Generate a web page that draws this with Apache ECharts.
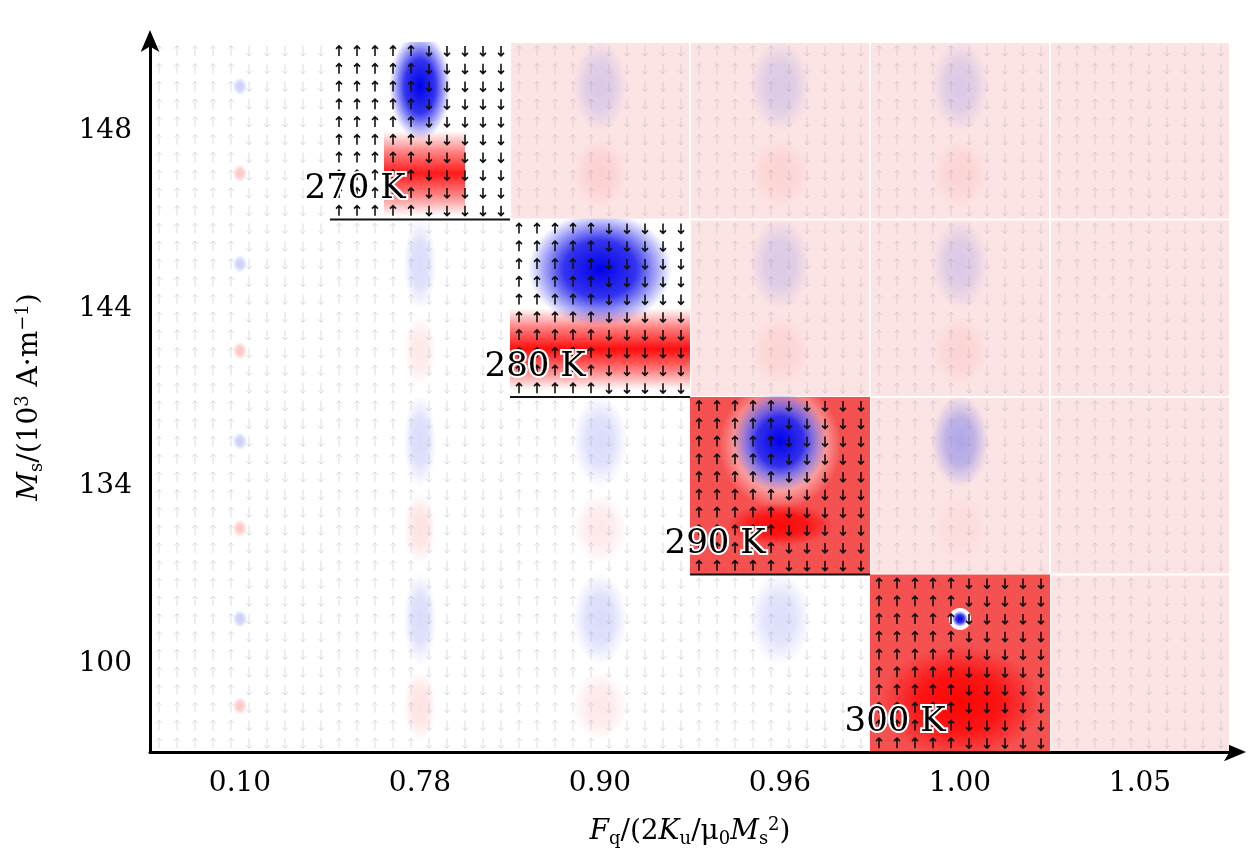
<!DOCTYPE html>
<html>
<head>
<meta charset="utf-8">
<script src="https://cdn.jsdelivr.net/npm/echarts@6/dist/echarts.min.js"></script>
<style>html,body{margin:0;background:#fff}#chart{width:1260px;height:866px}</style>
</head>
<body>
<div id="chart"></div>
<script>
var fields = ['0.10', '0.78', '0.90', '0.96', '1.00', '1.05'];
var moments = ['100', '134', '144', '148'];
var temps = ['300 K', '290 K', '280 K', '270 K'];
// per row (bottom to top), per column: strength of blue (upper) and red (lower) domains
var blueLevel = [
    [0.3, 0.22, 0.22, 0.2, 1.0, 0],
    [0.3, 0.22, 0.22, 1.0, 0.45, 0],
    [0.3, 0.22, 1.0, 0.2, 0.2, 0],
    [0.3, 1.0, 0.2, 0.2, 0.2, 0]
];
var redLevel = [
    [0.3, 0.15, 0.12, 0, 1.0, 0],
    [0.3, 0.15, 0.12, 0.95, 0.05, 0],
    [0.3, 0.12, 0.95, 0.1, 0.1, 0],
    [0.3, 0.9, 0.12, 0.1, 0.1, 0]
];
// background: 0 white, 1 light pink, 2 red
var bgKind = [
    [0, 0, 0, 0, 2, 1],
    [0, 0, 0, 2, 1, 1],
    [0, 0, 0, 1, 1, 1],
    [0, 0, 1, 1, 1, 1]
];
var blobWidth = [0.04, 0.09, 0.15, 0.17, 0.16, 0];
var hot = [4, 3, 2, 1]; // highlighted column per row

var data = [];
for (var r = 0; r < moments.length; r++) {
    for (var c = 0; c < fields.length; c++) {
        data.push([c, r, blueLevel[r][c], redLevel[r][c], bgKind[r][c]]);
    }
}

function blob(cx, cy, rx, ry, rgb, a) {
    return {
        type: 'circle', silent: true,
        x: cx, y: cy, scaleX: rx / ry, scaleY: 1,
        shape: { cx: 0, cy: 0, r: ry },
        style: { fill: { type: 'radial', x: 0.5, y: 0.5, r: 0.5, colorStops: [
            { offset: 0, color: 'rgba(' + rgb + ',' + a + ')' },
            { offset: 0.5, color: 'rgba(' + rgb + ',' + (a * 0.8) + ')' },
            { offset: 1, color: 'rgba(' + rgb + ',0)' }] } }
    };
}

function band(x, y, w, h, rgb, a) {
    return {
        type: 'rect', silent: true,
        shape: { x: x, y: y, width: w, height: h },
        style: { fill: { type: 'linear', x: 0, y: 0, x2: 0, y2: 1, colorStops: [
            { offset: 0, color: 'rgba(' + rgb + ',0)' },
            { offset: 0.25, color: 'rgba(' + rgb + ',' + (a * 0.55) + ')' },
            { offset: 0.5, color: 'rgba(' + rgb + ',' + a + ')' },
            { offset: 0.75, color: 'rgba(' + rgb + ',' + (a * 0.55) + ')' },
            { offset: 1, color: 'rgba(' + rgb + ',0)' }] } }
    };
}

function renderItem(params, api) {
    var c = api.value(0), r = api.value(1);
    var ctr = api.coord([c, r]);
    var s = api.size([1, 1]);
    var w = s[0], h = s[1];
    var x0 = ctr[0] - w / 2, y0 = ctr[1] - h / 2;
    var isHot = hot[r] === c;
    var kids = [];
    var bg = api.value(4);
    if (bg === 1) kids.push({ type: 'rect', shape: { x: x0 + 1, y: y0 + 1, width: w - 2, height: h - 2 }, style: { fill: '#fde4e4' } });
    if (bg === 2) kids.push({ type: 'rect', shape: { x: x0, y: y0, width: w, height: h }, style: { fill: 'rgba(245,50,50,0.85)' } });
    var b = api.value(2), rd = api.value(3);
    if (isHot && r === 0) {
        kids.push(blob(x0 + w * 0.5, y0 + h * 0.72, w * 0.45, h * 0.32, '255,0,0', 0.95));
        kids.push({ type: 'circle', shape: { cx: x0 + w * 0.5, cy: y0 + h * 0.25, r: 11 }, style: { fill: '#fff' } });
        kids.push(blob(x0 + w * 0.5, y0 + h * 0.25, 8, 8, '0,0,230', 1));
    } else if (isHot) {
        if (c === 3) {
            kids.push(blob(x0 + w * 0.5, y0 + h * 0.27, w * 0.34, h * 0.36, '255,255,255', 1));
            kids.push(blob(x0 + w * 0.5, y0 + h * 0.72, w * 0.3, h * 0.12, '255,0,0', 0.9));
            kids.push(blob(x0 + w * 0.5, y0 + h * 0.25, w * 0.26, h * 0.28, '0,0,235', 1));
        } else if (c === 1) {
            kids.push(band(x0 + w * 0.3, y0 + h * 0.5, w * 0.45, h * 0.48, '255,0,0', rd));
            kids.push(blob(x0 + w * 0.5, y0 + h * 0.25, w * 0.17, h * 0.3, '0,0,235', b));
        } else {
            kids.push(band(x0, y0 + h * 0.5, w, h * 0.46, '255,0,0', rd));
            kids.push(blob(x0 + w * 0.5, y0 + h * 0.28, w * 0.4, h * 0.32, '0,0,235', b));
        }
    } else if (b > 0) {
        var bx = blobWidth[c];
        kids.push(blob(x0 + w * 0.5, y0 + h * 0.25, w * bx, h * (c === 0 ? 0.05 : 0.26), '80,90,235', b));
        if (rd > 0) kids.push(blob(x0 + w * 0.5, y0 + h * 0.74, w * bx, h * (c === 0 ? 0.05 : 0.2), '250,60,60', rd));
    }
    // magnetisation arrows: up on the left half, down on the right half
    var path = '';
    var n = 10;
    for (var i = 0; i < n; i++) {
        for (var j = 0; j < n; j++) {
            var px = x0 + (i + 0.5) * w / n, py = y0 + (j + 0.5) * h / n;
            var dir = i < n / 2 ? -1 : 1;
            path += 'M' + px + ' ' + (py - dir * 5) + 'L' + px + ' ' + (py + dir * 5);
            path += 'M' + (px - 3) + ' ' + (py + dir * 2) + 'L' + px + ' ' + (py + dir * 5) + 'L' + (px + 3) + ' ' + (py + dir * 2);
        }
    }
    kids.push({ type: 'path', silent: true, shape: { pathData: path },
        style: { fill: null, stroke: isHot ? '#111' : 'rgba(140,140,170,0.3)', lineWidth: isHot ? 1.6 : 1 } });
    if (isHot) {
        kids.push({ type: 'line', shape: { x1: x0, y1: y0 + h, x2: x0 + w, y2: y0 + h }, style: { stroke: '#111', lineWidth: 2 } });
        kids.push({ type: 'text', style: { text: temps[r], x: x0 + w * 0.42, y: y0 + h * 0.83,
            align: 'right', verticalAlign: 'middle', font: '34px "DejaVu Serif"', fill: '#000', stroke: '#fff', lineWidth: 4 } });
    }
    return { type: 'group', children: kids };
}

var serif = '"DejaVu Serif", "Liberation Serif", serif';
var rich = {
    i: { fontFamily: serif, fontStyle: 'italic', fontSize: 28 },
    s: { fontFamily: serif, fontSize: 18, verticalAlign: 'bottom', padding: [14, 0, 0, 0] },
    p: { fontFamily: serif, fontSize: 18, verticalAlign: 'top', padding: [0, 0, 14, 0] }
};
var chart = echarts.init(document.getElementById('chart'));
chart.setOption({
    animation: false,
    grid: { left: 150, right: 30, top: 42, bottom: 114 },
    xAxis: {
        type: 'category', data: fields,
        axisLine: { lineStyle: { color: '#000', width: 3 }, symbol: ['none', 'arrow'], symbolSize: [14, 22], symbolOffset: [0, 16] },
        axisTick: { show: false },
        axisLabel: { color: '#000', fontFamily: serif, fontSize: 28, margin: 18 },
        name: '{i|F}{s|q}/(2{i|K}{s|u}/μ{s|0}{i|M}{s|s}{p|2})', nameLocation: 'middle', nameGap: 64,
        nameTextStyle: { color: '#000', fontFamily: serif, fontSize: 28, rich: rich }
    },
    yAxis: {
        type: 'category', data: moments,
        axisLine: { lineStyle: { color: '#000', width: 3 }, symbol: ['none', 'arrow'], symbolSize: [14, 22], symbolOffset: [0, 12] },
        axisTick: { show: false },
        axisLabel: { color: '#000', fontFamily: serif, fontSize: 28, margin: 18 },
        name: '{i|M}{s|s}/(10{p|3} A·m{p|−1})', nameLocation: 'middle', nameGap: 104,
        nameTextStyle: { color: '#000', fontFamily: serif, fontSize: 28, rich: rich }
    },
    series: [{ type: 'custom', renderItem: renderItem, data: data, clip: true, z: 1 }]
});
</script>
</body>
</html>
